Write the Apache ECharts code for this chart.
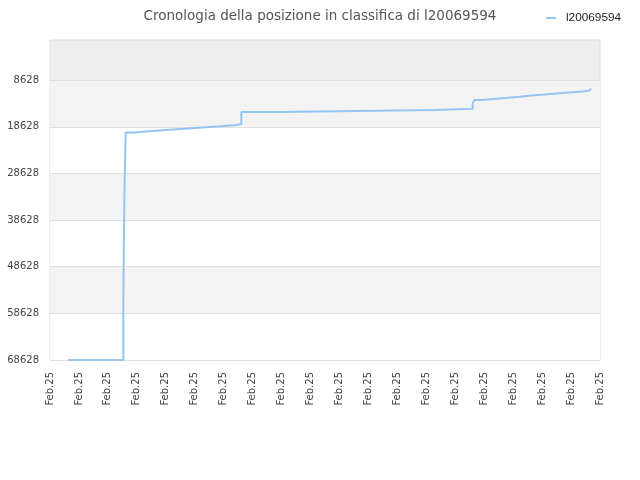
<!DOCTYPE html>
<html>
<head>
<meta charset="utf-8">
<script src="https://cdn.jsdelivr.net/npm/echarts@6/dist/echarts.min.js"></script>
<style>html,body{margin:0;padding:0;background:#fff}#c{width:640px;height:480px}</style>
</head>
<body>
<div id="c"></div>
<script>
const titleText = 'Cronologia della posizione in classifica di l20069594';
const seriesName = 'l20069594';
const xTickLabels = ['Feb.25','Feb.25','Feb.25','Feb.25','Feb.25','Feb.25','Feb.25','Feb.25','Feb.25','Feb.25',
                     'Feb.25','Feb.25','Feb.25','Feb.25','Feb.25','Feb.25','Feb.25','Feb.25','Feb.25','Feb.25'];
const yTickValues = [8628, 18628, 28628, 38628, 48628, 58628, 68628];
// x position in units of the date-label spacing, rank value
const xPos = [0.632, 2.532, 2.567, 2.615, 2.912, 3.396, 3.880, 4.377, 4.871, 5.379, 5.873, 6.356,
              6.609, 7.980, 10.595, 13.266, 14.602, 14.658, 14.914, 15.314, 15.753, 16.202,
              16.627, 17.066, 17.504, 17.940, 18.389, 18.596, 18.679];
const ranks = [68628, 57200, 34200, 19835, 19557, 19342, 19128, 18914, 18700, 18485, 18271, 18056,
               15420, 15206, 14992, 14750, 13592, 12885, 12670, 12457, 12178, 11878,
               11664, 11450, 11235, 11021, 10893, 10593, 10380];

const data = xPos.map((x, i) => [x, ranks[i]]);
const chart = echarts.init(document.getElementById('c'));
chart.setOption({
  animation: false,
  backgroundColor: '#ffffff',
  title: {
    text: titleText, left: 'center', top: 4,
    textStyle: { fontFamily: 'DejaVu Sans', fontSize: 13.5, fontWeight: 'normal', color: '#555' }
  },
  legend: {
    left: 541, top: 7, icon: 'rect', itemWidth: 10, itemHeight: 2, itemGap: 5,
    textStyle: { fontFamily: 'Liberation Sans', fontSize: 11.8, color: '#222', padding: [0, 0, 0, 5] },
    data: [seriesName]
  },
  grid: {
    left: 50, right: 40, top: 40, bottom: 120, show: true,
    backgroundColor: '#eeeeee', borderColor: '#dddddd', borderWidth: 1
  },
  xAxis: {
    type: 'value', min: 0, max: 19, interval: 1,
    axisLine: { show: false }, axisTick: { show: false }, splitLine: { show: false },
    axisLabel: {
      rotate: 90, margin: 12, fontFamily: 'DejaVu Sans', fontSize: 10, color: '#444',
      formatter: (v) => xTickLabels[Math.round(v)] || ''
    }
  },
  yAxis: {
    type: 'value', inverse: true, min: 0, max: 68628,
    axisLine: { show: false },
    axisTick: { show: false, customValues: yTickValues },
    axisLabel: {
      customValues: yTickValues, margin: 11, fontFamily: 'DejaVu Sans', fontSize: 10, color: '#444',
      formatter: (v) => String(v)
    },
    splitLine: { show: true, lineStyle: { color: '#e0e0e0', width: 1 } },
    splitArea: { show: true, areaStyle: { color: ['#f3f3f3', '#ffffff'] } }
  },
  series: [{
    name: seriesName, type: 'line', step: 'end', data: data,
    showSymbol: false, symbol: 'none',
    lineStyle: { color: '#94c4f4', width: 2 },
    itemStyle: { color: '#94c4f4' }
  }]
});
</script>
</body>
</html>
